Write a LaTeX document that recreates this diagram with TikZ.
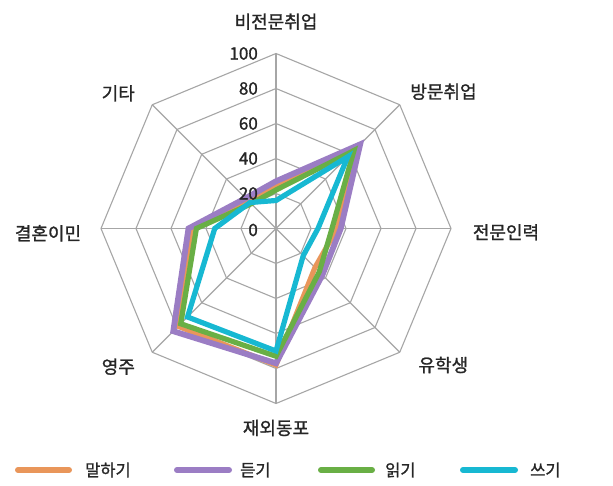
\documentclass[tikz,border=0pt]{standalone}
\usepackage{fontspec}
\setmainfont{Noto Sans CJK KR}
\newfontfamily\labfont{Noto Sans CJK KR}[FakeBold=1.2]
\begin{document}
\begin{tikzpicture}[x=1pt,y=1pt,
  grid/.style={draw=black!35, line width=1.1pt},
  ser/.style={line width=5.2pt, line join=miter},
  axlab/.style={font=\labfont\fontsize{18}{20}\selectfont, text=black!85, inner sep=0pt},
  tick/.style={font=\labfont\fontsize{17}{20}\selectfont, text=black!85, inner sep=0pt, anchor=east},
  leglab/.style={font=\labfont\fontsize{16.5}{20}\selectfont, text=black!85, inner sep=0pt, anchor=west},
  legline/.style={line width=6pt, line cap=round}]
\definecolor{corange}{HTML}{E9965A}
\definecolor{cpurple}{HTML}{9B7DC4}
\definecolor{cgreen}{HTML}{69AF45}
\definecolor{ccyan}{HTML}{17B8D2}
\useasboundingbox (0,0) rectangle (613,485);
\fill[white] (0,0) rectangle (613,485);
\begin{scope}[shift={(276,256.5)}, x=1.75pt, y=1.75pt]
  \foreach \r in {20,40,60,80,100}
    \draw[grid] (90:\r) -- (45:\r) -- (0:\r) -- (-45:\r) -- (-90:\r) -- (-135:\r) -- (180:\r) -- (135:\r) -- cycle;
  \foreach \a in {90,45,0,-45,-90,-135,180,135}
    \draw[grid] (0,0) -- (\a:100);
  \draw[ser, corange] (90:24) -- (45:65) -- (0:35) -- (-45:31.5) -- (-90:78) -- (-135:79) -- (180:48) -- (135:22) -- cycle;
  \draw[ser, cpurple, line width=5.8pt] (90:27) -- (45:68) -- (0:37) -- (-45:37.5) -- (-90:77) -- (-135:83) -- (180:50) -- (135:24.5) -- cycle;
  \draw[ser, cgreen] (90:22) -- (45:63) -- (0:32) -- (-45:35) -- (-90:73) -- (-135:77) -- (180:45.5) -- (135:20) -- cycle;
  \draw[ser, ccyan] (90:16) -- (45:58) -- (0:24) -- (-45:22) -- (-90:70) -- (-135:71.5) -- (180:35) -- (135:21) -- cycle;
\end{scope}
\node[tick] (t100) at (258,431.5) {100};
\node[tick] (t80) at (258,396.5) {80};
\node[tick] (t60) at (258,361.5) {60};
\node[tick] (t40) at (258,326.5) {40};
\node[tick] (t20) at (258,291.5) {20};
\node[tick] (t0) at (258,255) {0};
\node[axlab] (l1) at (276,463.3) {비전문취업};
\node[axlab] (l2) at (443.5,393.3) {방문취업};
\node[axlab] (l3) at (506,252.7) {전문인력};
\node[axlab] (l4) at (443.3,120) {유학생};
\node[axlab] (l5) at (276,57) {재외동포};
\node[axlab] (l6) at (118.3,118.3) {영주};
\node[axlab] (l7) at (48,251.7) {결혼이민};
\node[axlab] (l8) at (118.3,391.7) {기타};
\coordinate (o1) at (18,15); \coordinate (o2) at (69,15);
\coordinate (p1) at (177,15); \coordinate (p2) at (229,15);
\coordinate (g1) at (321,15); \coordinate (g2) at (372,15);
\coordinate (c1) at (463,15); \coordinate (c2) at (515,15);
\draw[legline, corange] (o1) -- (o2);
\draw[legline, cpurple] (p1) -- (p2);
\draw[legline, cgreen] (g1) -- (g2);
\draw[legline, ccyan] (c1) -- (c2);
\node[leglab] (n1) at (85,15) {말하기};
\node[leglab] (n2) at (240,15) {듣기};
\node[leglab] (n3) at (385,15) {읽기};
\node[leglab] (n4) at (530,15) {쓰기};
\end{tikzpicture}
\end{document}
